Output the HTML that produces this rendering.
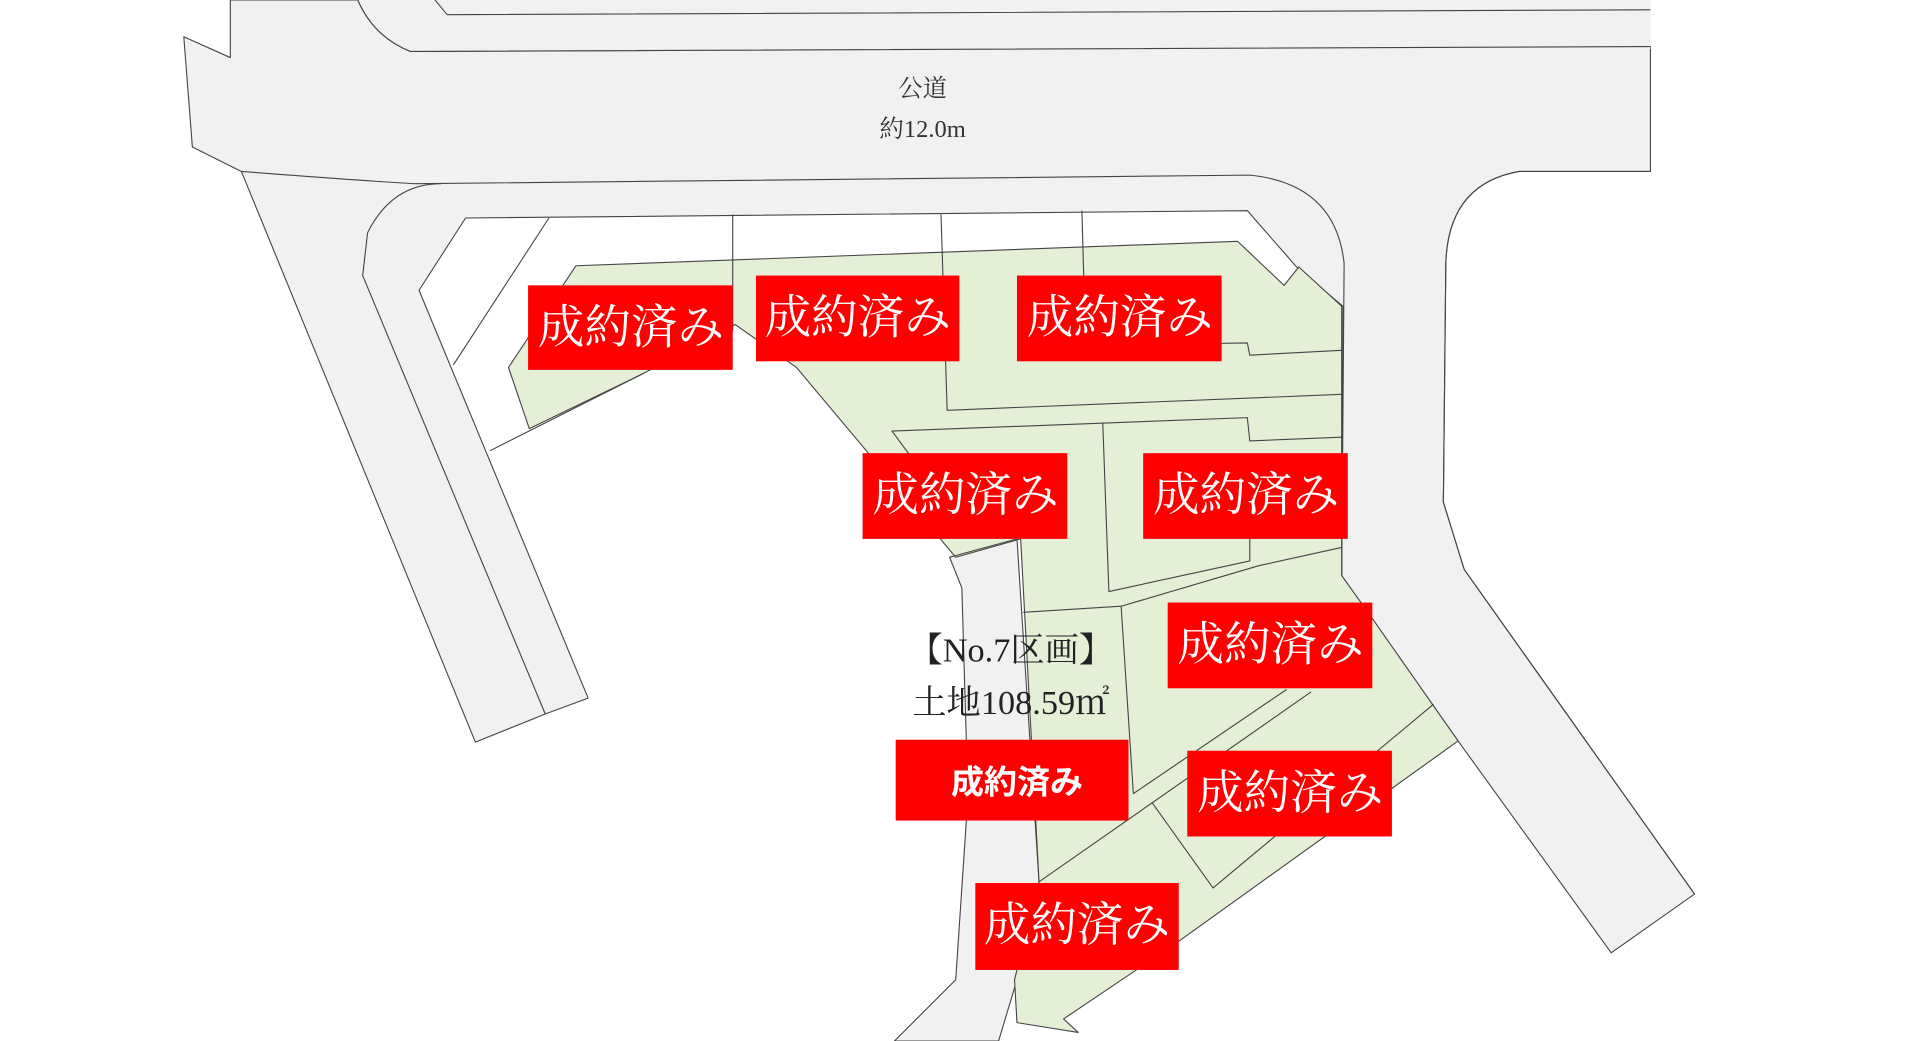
<!DOCTYPE html>
<html><head><meta charset="utf-8"><style>
html,body{margin:0;padding:0;background:#fff;width:1920px;height:1041px;overflow:hidden}
svg{display:block}
.t{font-family:"Liberation Serif","Noto Serif CJK SC",serif;}
</style></head><body>
<svg width="1920" height="1041" viewBox="0 0 1567 850" preserveAspectRatio="none" xmlns="http://www.w3.org/2000/svg">
<g stroke="#444" stroke-width="0.9" stroke-linejoin="round">
<path fill="#f1f1f1" d="M150,30 L188,47 L188,0 L292,0 Q305,30 335,42 L1347,38 L1347,140 L1240,140 Q1182,150 1180,215 L1178,410 L1195,465 L1383,730 L1315,778 L1190,605 L1095,470 L1096,250 L1060,220 L1018,172 L380,178 L342,237 L480,570 L445,583 L388,606 L197,140 L157,120 Z"/>
<path fill="#f1f1f1" stroke="none" d="M292,0 L1347,0 L1347,40 L335,42 Q305,30 292,0 Z"/>
<path fill="none" d="M355,0 L365,12 L1347,8"/>
<path fill="none" d="M292,0 Q305,30 335,42 L1347,38"/>
<path fill="none" d="M1347,140 L1240,140 Q1182,150 1180,215 L1178,410 L1195,465 L1383,730"/>
<path fill="none" d="M197,140 Q330,150 340,150 L1020,143 Q1090,150 1097,215 L1095,470"/>
<path fill="none" d="M300,190 Q320,150 360,150"/>
<path fill="none" d="M300,190 L296,225 L445,583"/>
<path fill="#f1f1f1" d="M775,455 L830,440 L848,720 L830,800 L815,850 L730,850 L780,800 L790,650 L785,480 Z"/>
<path fill="#e4efd5" d="M470,217 L1010,197 L1048,233 L1060,218 L1095,250 L1095,470 L1120,505 L1190,605 L960,770 L868,832 L880,843 L830,835 L828,800 L848,720 L833,440 L780,455 L650,300 L600,265 L525,305 L432,350 L415,300 Z"/>
<path fill="none" d="M448,178 L370,298 M525,305 L400,368"/>
<path fill="none" d="M598,175 L598,270 M768,175 L773,335 L1095,322 M883,172 L886,282 L1018,280 L1020,290 L1095,286"/>
<path fill="none" d="M745,375 L728,352 L1018,341 L1020,360 L1095,357"/>
<path fill="none" d="M900,345 L905,483 L1020,458 L1020,440"/>
<path fill="none" d="M835,500 L915,495 L1027,462 L1095,447"/>
<path fill="none" d="M915,495 L925,648 L1050,563"/>
<path fill="none" d="M848,720 L1070,565 M940,655 L990,725 L1170,575"/>
<path fill="none" d="M775,455 L830,440"/>
</g>
<text class="t" x="753" y="79" font-size="20" text-anchor="middle" fill="#333">公道</text>
<text class="t" x="753" y="112" font-size="20" text-anchor="middle" fill="#333">約12.0m</text>
<text class="t" x="825" y="540" font-size="28" text-anchor="middle" fill="#222">【No.7区画】</text>
<text class="t" x="825" y="583" font-size="28" text-anchor="middle" fill="#222">土地108.59㎡</text>
<g fill="#ff0000">
<rect x="431" y="233" width="167" height="69"/>
<rect x="617" y="225" width="166" height="70"/>
<rect x="830" y="225" width="167" height="70"/>
<rect x="704" y="370" width="167" height="70"/>
<rect x="933" y="370" width="167" height="70"/>
<rect x="953" y="492" width="167" height="70"/>
<rect x="731" y="604" width="190" height="66"/>
<rect x="969" y="613" width="167" height="70"/>
<rect x="796" y="721" width="166" height="71"/>
</g>
<g class="t" fill="#fff" font-size="38" text-anchor="middle">
<text x="515" y="280">成約済み</text>
<text x="700" y="272">成約済み</text>
<text x="914" y="272">成約済み</text>
<text x="788" y="417">成約済み</text>
<text x="1017" y="417">成約済み</text>
<text x="1037" y="539">成約済み</text>
<text x="1053" y="660">成約済み</text>
<text x="879" y="768">成約済み</text>
</g>
<text x="830" y="648" font-size="27" font-weight="bold" text-anchor="middle" fill="#fff" font-family="Liberation Sans,'Noto Sans CJK JP',sans-serif">成約済み</text>
</svg>
</body></html>
